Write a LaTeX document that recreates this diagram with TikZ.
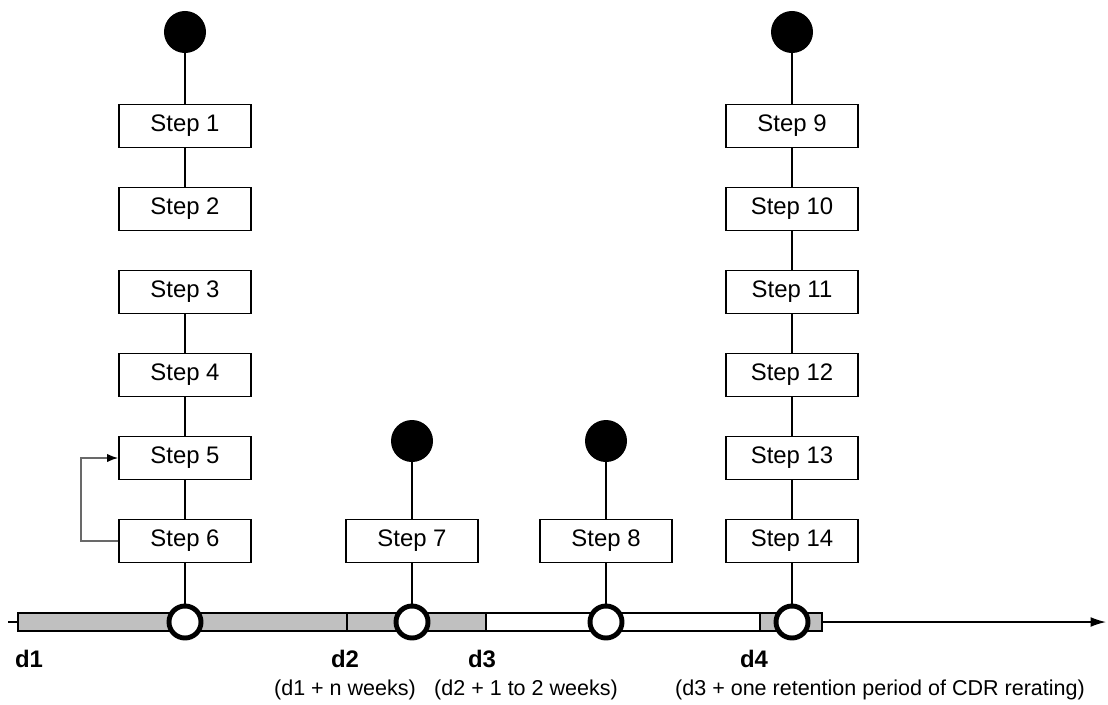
\documentclass[tikz,border=0pt]{standalone}
\usepackage{fontspec}
\setmainfont{Liberation Sans}
\usetikzlibrary{arrows.meta,positioning}
\definecolor{barfill}{RGB}{192,192,192}
\definecolor{loopgray}{RGB}{105,105,105}

\begin{document}
\begin{tikzpicture}[x=0.025cm,y=-0.025cm,-,auto,every edge/.append style={line width=1pt}]
\tikzstyle{stepbox}=[rectangle,draw=black,line width=1pt,minimum width=3.3cm,minimum height=1.08cm,inner sep=0pt,font=\fontsize{17}{20}\selectfont]
\tikzstyle{start}=[circle,fill=black,minimum size=1.05cm,inner sep=0pt]
\tikzstyle{event}=[circle,draw=black,fill=white,line width=3.5pt,minimum size=0.8cm,inner sep=0pt]
\tikzstyle{day}=[inner sep=0pt,font=\fontsize{17}{20}\selectfont\bfseries]
\tikzstyle{when}=[inner sep=0pt,font=\fontsize{15.3}{18}\selectfont]
\useasboundingbox (0,0) rectangle (1108,704);
% time axis
\coordinate (t0) at (8,622);
\coordinate (t1) at (1106,622);
\draw [line width=1pt,-{Latex[length=11pt,width=7pt]}] (t0) -- (t1);
\draw [line width=1pt,fill=barfill] (18,613) rectangle (347,631);
\draw [line width=1pt,fill=barfill] (347,613) rectangle (486,631);
\draw [line width=1pt,fill=white] (486,613) rectangle (760,631);
\draw [line width=1pt,fill=barfill] (760,613) rectangle (822,631);
% first column
\node [start] (b1) at (185,32) {};
\node [stepbox] (s1) at (185,126) {Step 1};
\node [stepbox] (s2) at (185,209) {Step 2};
\node [stepbox] (s3) at (185,292) {Step 3};
\node [stepbox] (s4) at (185,375) {Step 4};
\node [stepbox] (s5) at (185,458) {Step 5};
\node [stepbox] (s6) at (185,541) {Step 6};
% second and third column
\node [start] (b2) at (412,441) {};
\node [stepbox] (s7) at (412,541) {Step 7};
\node [start] (b3) at (606,441) {};
\node [stepbox] (s8) at (606,541) {Step 8};
% fourth column
\node [start] (b4) at (792,32) {};
\node [stepbox] (s9) at (792,126) {Step 9};
\node [stepbox] (s10) at (792,209) {Step 10};
\node [stepbox] (s11) at (792,292) {Step 11};
\node [stepbox] (s12) at (792,375) {Step 12};
\node [stepbox] (s13) at (792,458) {Step 13};
\node [stepbox] (s14) at (792,541) {Step 14};
% events on the axis
\node [event] (e1) at (185,622) {};
\node [event] (e2) at (412,622) {};
\node [event] (e3) at (606,622) {};
\node [event] (e4) at (792,622) {};
\path (b1) edge (s1);
\path (s1) edge (s2);
\path (s3) edge (s4);
\path (s4) edge (s5);
\path (s5) edge (s6);
\path (s6) edge (e1);
\path (b2) edge (s7);
\path (s7) edge (e2);
\path (b3) edge (s8);
\path (s8) edge (e3);
\path (b4) edge (s9);
\path (s9) edge (s10);
\path (s10) edge (s11);
\path (s11) edge (s12);
\path (s12) edge (s13);
\path (s13) edge (s14);
\path (s14) edge (e4);
\draw [loopgray,line width=1.2pt,-{Latex[black,length=8pt,width=6pt]}] (s6.west) -- ++(-37,0) |- (s5.west);
% dates
\node [day] (d1) at (29,659) {d1};
\node [day] (d2) at (345,659) {d2};
\node [day] (d3) at (482,659) {d3};
\node [day] (d4) at (754,659) {d4};
\node [when] (w2) at (345,690) {(d1 + n weeks)};
\node [when] (w3) at (526,690) {(d2 + 1 to 2 weeks)};
\node [when] (w4) at (880,690) {(d3 + one retention period of CDR rerating)};
\end{tikzpicture}
\end{document}
